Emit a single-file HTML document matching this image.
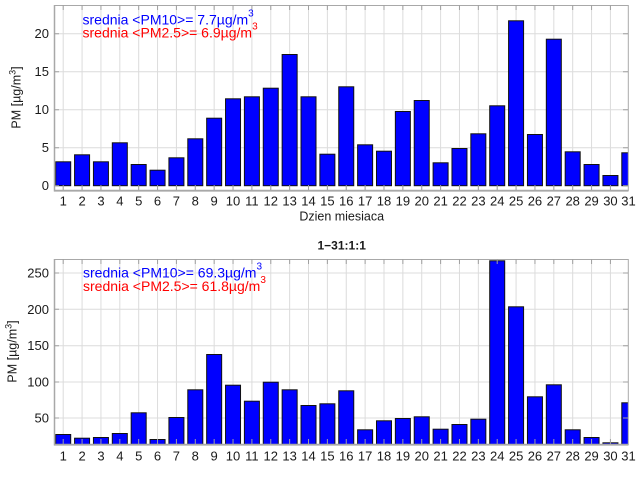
<!DOCTYPE html>
<html><head><meta charset="utf-8"><style>
html,body{margin:0;padding:0;background:#fff;}
svg{display:block;}
text{font-family:"Liberation Sans",Arial,sans-serif;}
</style></head><body>
<svg width="640" height="480" viewBox="0 0 640 480" xmlns="http://www.w3.org/2000/svg">
<defs>
<clipPath id="c1"><rect x="54" y="5" width="574.3" height="185.5"/></clipPath>
<clipPath id="c2"><rect x="54" y="259" width="574.3" height="185.5"/></clipPath>
</defs>
<rect width="640" height="480" fill="#fff"/>

<!-- ===== TOP PLOT ===== -->
<g stroke="#dcdcdc" stroke-width="1">
<line x1="54" x2="628" y1="147.7" y2="147.7"/><line x1="54" x2="628" y1="109.7" y2="109.7"/><line x1="54" x2="628" y1="71.7" y2="71.7"/><line x1="54" x2="628" y1="33.7" y2="33.7"/>
<line x1="63.2" x2="63.2" y1="5" y2="190"/><line x1="82.07" x2="82.07" y1="5" y2="190"/><line x1="100.94" x2="100.94" y1="5" y2="190"/><line x1="119.81" x2="119.81" y1="5" y2="190"/><line x1="138.68" x2="138.68" y1="5" y2="190"/><line x1="157.55" x2="157.55" y1="5" y2="190"/><line x1="176.42" x2="176.42" y1="5" y2="190"/><line x1="195.29" x2="195.29" y1="5" y2="190"/><line x1="214.16" x2="214.16" y1="5" y2="190"/><line x1="233.03" x2="233.03" y1="5" y2="190"/><line x1="251.9" x2="251.9" y1="5" y2="190"/><line x1="270.77" x2="270.77" y1="5" y2="190"/><line x1="289.64" x2="289.64" y1="5" y2="190"/><line x1="308.51" x2="308.51" y1="5" y2="190"/><line x1="327.38" x2="327.38" y1="5" y2="190"/><line x1="346.25" x2="346.25" y1="5" y2="190"/><line x1="365.12" x2="365.12" y1="5" y2="190"/><line x1="383.99" x2="383.99" y1="5" y2="190"/><line x1="402.86" x2="402.86" y1="5" y2="190"/><line x1="421.73" x2="421.73" y1="5" y2="190"/><line x1="440.6" x2="440.6" y1="5" y2="190"/><line x1="459.47" x2="459.47" y1="5" y2="190"/><line x1="478.34" x2="478.34" y1="5" y2="190"/><line x1="497.21" x2="497.21" y1="5" y2="190"/><line x1="516.08" x2="516.08" y1="5" y2="190"/><line x1="534.95" x2="534.95" y1="5" y2="190"/><line x1="553.82" x2="553.82" y1="5" y2="190"/><line x1="572.69" x2="572.69" y1="5" y2="190"/><line x1="591.56" x2="591.56" y1="5" y2="190"/><line x1="610.43" x2="610.43" y1="5" y2="190"/>
</g>
<g clip-path="url(#c1)" fill="#0000ff" stroke="#111" stroke-width="1">
<rect x="55.7" y="161.8" width="15" height="23.9"/>
<rect x="74.57" y="154.8" width="15" height="30.9"/>
<rect x="93.44" y="161.8" width="15" height="23.9"/>
<rect x="112.31" y="142.8" width="15" height="42.9"/>
<rect x="131.18" y="164.5" width="15" height="21.2"/>
<rect x="150.05" y="170.2" width="15" height="15.5"/>
<rect x="168.92" y="157.8" width="15" height="27.9"/>
<rect x="187.79" y="138.8" width="15" height="46.9"/>
<rect x="206.66" y="118.2" width="15" height="67.5"/>
<rect x="225.53" y="98.8" width="15" height="86.9"/>
<rect x="244.4" y="96.8" width="15" height="88.9"/>
<rect x="263.27" y="88.2" width="15" height="97.5"/>
<rect x="282.14" y="54.5" width="15" height="131.2"/>
<rect x="301.01" y="96.8" width="15" height="88.9"/>
<rect x="319.88" y="154.2" width="15" height="31.5"/>
<rect x="338.75" y="86.8" width="15" height="98.9"/>
<rect x="357.62" y="144.8" width="15" height="40.9"/>
<rect x="376.49" y="151.2" width="15" height="34.5"/>
<rect x="395.36" y="111.5" width="15" height="74.2"/>
<rect x="414.23" y="100.5" width="15" height="85.2"/>
<rect x="433.1" y="162.8" width="15" height="22.9"/>
<rect x="451.97" y="148.5" width="15" height="37.2"/>
<rect x="470.84" y="133.8" width="15" height="51.9"/>
<rect x="489.71" y="105.8" width="15" height="79.9"/>
<rect x="508.58" y="20.8" width="15" height="164.9"/>
<rect x="527.45" y="134.5" width="15" height="51.2"/>
<rect x="546.32" y="39.2" width="15" height="146.5"/>
<rect x="565.19" y="151.8" width="15" height="33.9"/>
<rect x="584.06" y="164.5" width="15" height="21.2"/>
<rect x="602.93" y="175.5" width="15" height="10.2"/>
<rect x="621.8" y="152.8" width="15" height="32.9"/>
</g>
<!-- axes box -->
<g stroke="#a8a8a8" fill="none">
<line x1="54" y1="5.5" x2="628.5" y2="5.5" stroke-width="1"/>
<line x1="628.3" y1="5" x2="628.3" y2="191" stroke-width="1"/>
<line x1="54.5" y1="5" x2="54.5" y2="191.5" stroke-width="1.5"/>
<line x1="54" y1="190.7" x2="628.5" y2="190.7" stroke-width="1.8"/>
</g>
<g stroke="#a0a0a0" stroke-width="1">
<path d="M63.2 190V185M82.07 190V185M100.94 190V185M119.81 190V185M138.68 190V185M157.55 190V185M176.42 190V185M195.29 190V185M214.16 190V185M233.03 190V185M251.9 190V185M270.77 190V185M289.64 190V185M308.51 190V185M327.38 190V185M346.25 190V185M365.12 190V185M383.99 190V185M402.86 190V185M421.73 190V185M440.6 190V185M459.47 190V185M478.34 190V185M497.21 190V185M516.08 190V185M534.95 190V185M553.82 190V185M572.69 190V185M591.56 190V185M610.43 190V185"/>
<path d="M63.2 5V10M82.07 5V10M100.94 5V10M119.81 5V10M138.68 5V10M157.55 5V10M176.42 5V10M195.29 5V10M214.16 5V10M233.03 5V10M251.9 5V10M270.77 5V10M289.64 5V10M308.51 5V10M327.38 5V10M346.25 5V10M365.12 5V10M383.99 5V10M402.86 5V10M421.73 5V10M440.6 5V10M459.47 5V10M478.34 5V10M497.21 5V10M516.08 5V10M534.95 5V10M553.82 5V10M572.69 5V10M591.56 5V10M610.43 5V10"/>
<path d="M54 185.7H59M54 147.7H59M54 109.7H59M54 71.7H59M54 33.7H59"/>
<path d="M628 185.7H623M628 147.7H623M628 109.7H623M628 71.7H623M628 33.7H623"/>
</g>
<g font-size="13" fill="#1a1a1a" text-anchor="end">
<text x="49" y="190.2">0</text><text x="49" y="152.2">5</text><text x="49" y="114.2">10</text><text x="49" y="76.2">15</text><text x="49" y="38.2">20</text>
</g>
<g font-size="13" fill="#1a1a1a" text-anchor="middle">
<text x="63.2" y="205.5">1</text><text x="82.07" y="205.5">2</text><text x="100.94" y="205.5">3</text><text x="119.81" y="205.5">4</text><text x="138.68" y="205.5">5</text><text x="157.55" y="205.5">6</text><text x="176.42" y="205.5">7</text><text x="195.29" y="205.5">8</text><text x="214.16" y="205.5">9</text><text x="233.03" y="205.5">10</text><text x="251.9" y="205.5">11</text><text x="270.77" y="205.5">12</text><text x="289.64" y="205.5">13</text><text x="308.51" y="205.5">14</text><text x="327.38" y="205.5">15</text><text x="346.25" y="205.5">16</text><text x="365.12" y="205.5">17</text><text x="383.99" y="205.5">18</text><text x="402.86" y="205.5">19</text><text x="421.73" y="205.5">20</text><text x="440.6" y="205.5">21</text><text x="459.47" y="205.5">22</text><text x="478.34" y="205.5">23</text><text x="497.21" y="205.5">24</text><text x="516.08" y="205.5">25</text><text x="534.95" y="205.5">26</text><text x="553.82" y="205.5">27</text><text x="572.69" y="205.5">28</text><text x="591.56" y="205.5">29</text><text x="610.43" y="205.5">30</text><text x="628.5" y="205.5">31</text>
<text x="341.7" y="220.5" font-size="12.5">Dzien miesiaca</text>
</g>
<text transform="translate(20.5,97.5) rotate(-90)" text-anchor="middle" font-size="12.5" fill="#1a1a1a">PM [µg/m<tspan dy="-5" font-size="9">3</tspan><tspan dy="5">]</tspan></text>
<text x="82.5" y="24.5" font-size="14" fill="#0000ff">srednia &lt;PM10&gt;= 7.7µg/m<tspan dy="-8" font-size="10">3</tspan></text>
<text x="82.5" y="37.5" font-size="14" fill="#ff0000">srednia &lt;PM2.5&gt;= 6.9µg/m<tspan dy="-8" font-size="10">3</tspan></text>

<!-- ===== TITLE ===== -->
<text x="341.7" y="249.3" font-size="12" font-weight="bold" fill="#1a1a1a" text-anchor="middle">1−31:1:1</text>

<!-- ===== BOTTOM PLOT ===== -->
<g stroke="#dcdcdc" stroke-width="1">
<line x1="54" x2="628" y1="418" y2="418"/><line x1="54" x2="628" y1="382" y2="382"/><line x1="54" x2="628" y1="345.7" y2="345.7"/><line x1="54" x2="628" y1="309.3" y2="309.3"/><line x1="54" x2="628" y1="273" y2="273"/>
<line x1="63.2" x2="63.2" y1="259" y2="444"/><line x1="82.07" x2="82.07" y1="259" y2="444"/><line x1="100.94" x2="100.94" y1="259" y2="444"/><line x1="119.81" x2="119.81" y1="259" y2="444"/><line x1="138.68" x2="138.68" y1="259" y2="444"/><line x1="157.55" x2="157.55" y1="259" y2="444"/><line x1="176.42" x2="176.42" y1="259" y2="444"/><line x1="195.29" x2="195.29" y1="259" y2="444"/><line x1="214.16" x2="214.16" y1="259" y2="444"/><line x1="233.03" x2="233.03" y1="259" y2="444"/><line x1="251.9" x2="251.9" y1="259" y2="444"/><line x1="270.77" x2="270.77" y1="259" y2="444"/><line x1="289.64" x2="289.64" y1="259" y2="444"/><line x1="308.51" x2="308.51" y1="259" y2="444"/><line x1="327.38" x2="327.38" y1="259" y2="444"/><line x1="346.25" x2="346.25" y1="259" y2="444"/><line x1="365.12" x2="365.12" y1="259" y2="444"/><line x1="383.99" x2="383.99" y1="259" y2="444"/><line x1="402.86" x2="402.86" y1="259" y2="444"/><line x1="421.73" x2="421.73" y1="259" y2="444"/><line x1="440.6" x2="440.6" y1="259" y2="444"/><line x1="459.47" x2="459.47" y1="259" y2="444"/><line x1="478.34" x2="478.34" y1="259" y2="444"/><line x1="497.21" x2="497.21" y1="259" y2="444"/><line x1="516.08" x2="516.08" y1="259" y2="444"/><line x1="534.95" x2="534.95" y1="259" y2="444"/><line x1="553.82" x2="553.82" y1="259" y2="444"/><line x1="572.69" x2="572.69" y1="259" y2="444"/><line x1="591.56" x2="591.56" y1="259" y2="444"/><line x1="610.43" x2="610.43" y1="259" y2="444"/>
</g>
<g clip-path="url(#c2)" fill="#0000ff" stroke="#111" stroke-width="1">
<rect x="55.7" y="434.5" width="15" height="14"/>
<rect x="74.57" y="438.2" width="15" height="10"/>
<rect x="93.44" y="437.5" width="15" height="10"/>
<rect x="112.31" y="433.5" width="15" height="14"/>
<rect x="131.18" y="412.8" width="15" height="36"/>
<rect x="150.05" y="439.5" width="15" height="10"/>
<rect x="168.92" y="417.5" width="15" height="31"/>
<rect x="187.79" y="389.8" width="15" height="59"/>
<rect x="206.66" y="354.5" width="15" height="94"/>
<rect x="225.53" y="385.2" width="15" height="63"/>
<rect x="244.4" y="401.2" width="15" height="47"/>
<rect x="263.27" y="382.2" width="15" height="66"/>
<rect x="282.14" y="389.8" width="15" height="59"/>
<rect x="301.01" y="405.5" width="15" height="43"/>
<rect x="319.88" y="403.8" width="15" height="45"/>
<rect x="338.75" y="390.8" width="15" height="58"/>
<rect x="357.62" y="429.8" width="15" height="19"/>
<rect x="376.49" y="420.8" width="15" height="28"/>
<rect x="395.36" y="418.5" width="15" height="30"/>
<rect x="414.23" y="416.8" width="15" height="32"/>
<rect x="433.1" y="429.2" width="15" height="19"/>
<rect x="451.97" y="424.5" width="15" height="24"/>
<rect x="470.84" y="419.2" width="15" height="29"/>
<rect x="489.71" y="260.8" width="15" height="188"/>
<rect x="508.58" y="306.8" width="15" height="142"/>
<rect x="527.45" y="396.8" width="15" height="52"/>
<rect x="546.32" y="384.8" width="15" height="64"/>
<rect x="565.19" y="429.8" width="15" height="19"/>
<rect x="584.06" y="437.5" width="15" height="11"/>
<rect x="602.93" y="442.8" width="15" height="6"/>
<rect x="621.8" y="402.8" width="15" height="46"/>
</g>
<g stroke="#a8a8a8" fill="none">
<line x1="54" y1="259.5" x2="628.5" y2="259.5" stroke-width="1"/>
<line x1="628.3" y1="259" x2="628.3" y2="445" stroke-width="1"/>
<line x1="54.5" y1="259" x2="54.5" y2="445.5" stroke-width="1.5"/>
<line x1="54" y1="444.7" x2="628.5" y2="444.7" stroke-width="1.8"/>
</g>
<g stroke="#a0a0a0" stroke-width="1">
<path d="M63.2 444V439M82.07 444V439M100.94 444V439M119.81 444V439M138.68 444V439M157.55 444V439M176.42 444V439M195.29 444V439M214.16 444V439M233.03 444V439M251.9 444V439M270.77 444V439M289.64 444V439M308.51 444V439M327.38 444V439M346.25 444V439M365.12 444V439M383.99 444V439M402.86 444V439M421.73 444V439M440.6 444V439M459.47 444V439M478.34 444V439M497.21 444V439M516.08 444V439M534.95 444V439M553.82 444V439M572.69 444V439M591.56 444V439M610.43 444V439"/>
<path d="M63.2 259V264M82.07 259V264M100.94 259V264M119.81 259V264M138.68 259V264M157.55 259V264M176.42 259V264M195.29 259V264M214.16 259V264M233.03 259V264M251.9 259V264M270.77 259V264M289.64 259V264M308.51 259V264M327.38 259V264M346.25 259V264M365.12 259V264M383.99 259V264M402.86 259V264M421.73 259V264M440.6 259V264M459.47 259V264M478.34 259V264M497.21 259V264M516.08 259V264M534.95 259V264M553.82 259V264M572.69 259V264M591.56 259V264M610.43 259V264"/>
<path d="M54 418H59M54 382H59M54 345.7H59M54 309.3H59M54 273H59"/>
<path d="M628 418H623M628 382H623M628 345.7H623M628 309.3H623M628 273H623"/>
</g>
<g font-size="13" fill="#1a1a1a" text-anchor="end">
<text x="49" y="422.5">50</text><text x="49" y="386.5">100</text><text x="49" y="350.2">150</text><text x="49" y="313.8">200</text><text x="49" y="277.5">250</text>
</g>
<g font-size="13" fill="#1a1a1a" text-anchor="middle">
<text x="63.2" y="460.5">1</text><text x="82.07" y="460.5">2</text><text x="100.94" y="460.5">3</text><text x="119.81" y="460.5">4</text><text x="138.68" y="460.5">5</text><text x="157.55" y="460.5">6</text><text x="176.42" y="460.5">7</text><text x="195.29" y="460.5">8</text><text x="214.16" y="460.5">9</text><text x="233.03" y="460.5">10</text><text x="251.9" y="460.5">11</text><text x="270.77" y="460.5">12</text><text x="289.64" y="460.5">13</text><text x="308.51" y="460.5">14</text><text x="327.38" y="460.5">15</text><text x="346.25" y="460.5">16</text><text x="365.12" y="460.5">17</text><text x="383.99" y="460.5">18</text><text x="402.86" y="460.5">19</text><text x="421.73" y="460.5">20</text><text x="440.6" y="460.5">21</text><text x="459.47" y="460.5">22</text><text x="478.34" y="460.5">23</text><text x="497.21" y="460.5">24</text><text x="516.08" y="460.5">25</text><text x="534.95" y="460.5">26</text><text x="553.82" y="460.5">27</text><text x="572.69" y="460.5">28</text><text x="591.56" y="460.5">29</text><text x="610.43" y="460.5">30</text><text x="628.5" y="460.5">31</text>
</g>
<text transform="translate(16.7,351.5) rotate(-90)" text-anchor="middle" font-size="12.5" fill="#1a1a1a">PM [µg/m<tspan dy="-5" font-size="9">3</tspan><tspan dy="5">]</tspan></text>
<text x="83" y="277.7" font-size="14" fill="#0000ff">srednia &lt;PM10&gt;= 69.3µg/m<tspan dy="-8" font-size="10">3</tspan></text>
<text x="83" y="291" font-size="14" fill="#ff0000">srednia &lt;PM2.5&gt;= 61.8µg/m<tspan dy="-8" font-size="10">3</tspan></text>
</svg>
</body></html>
